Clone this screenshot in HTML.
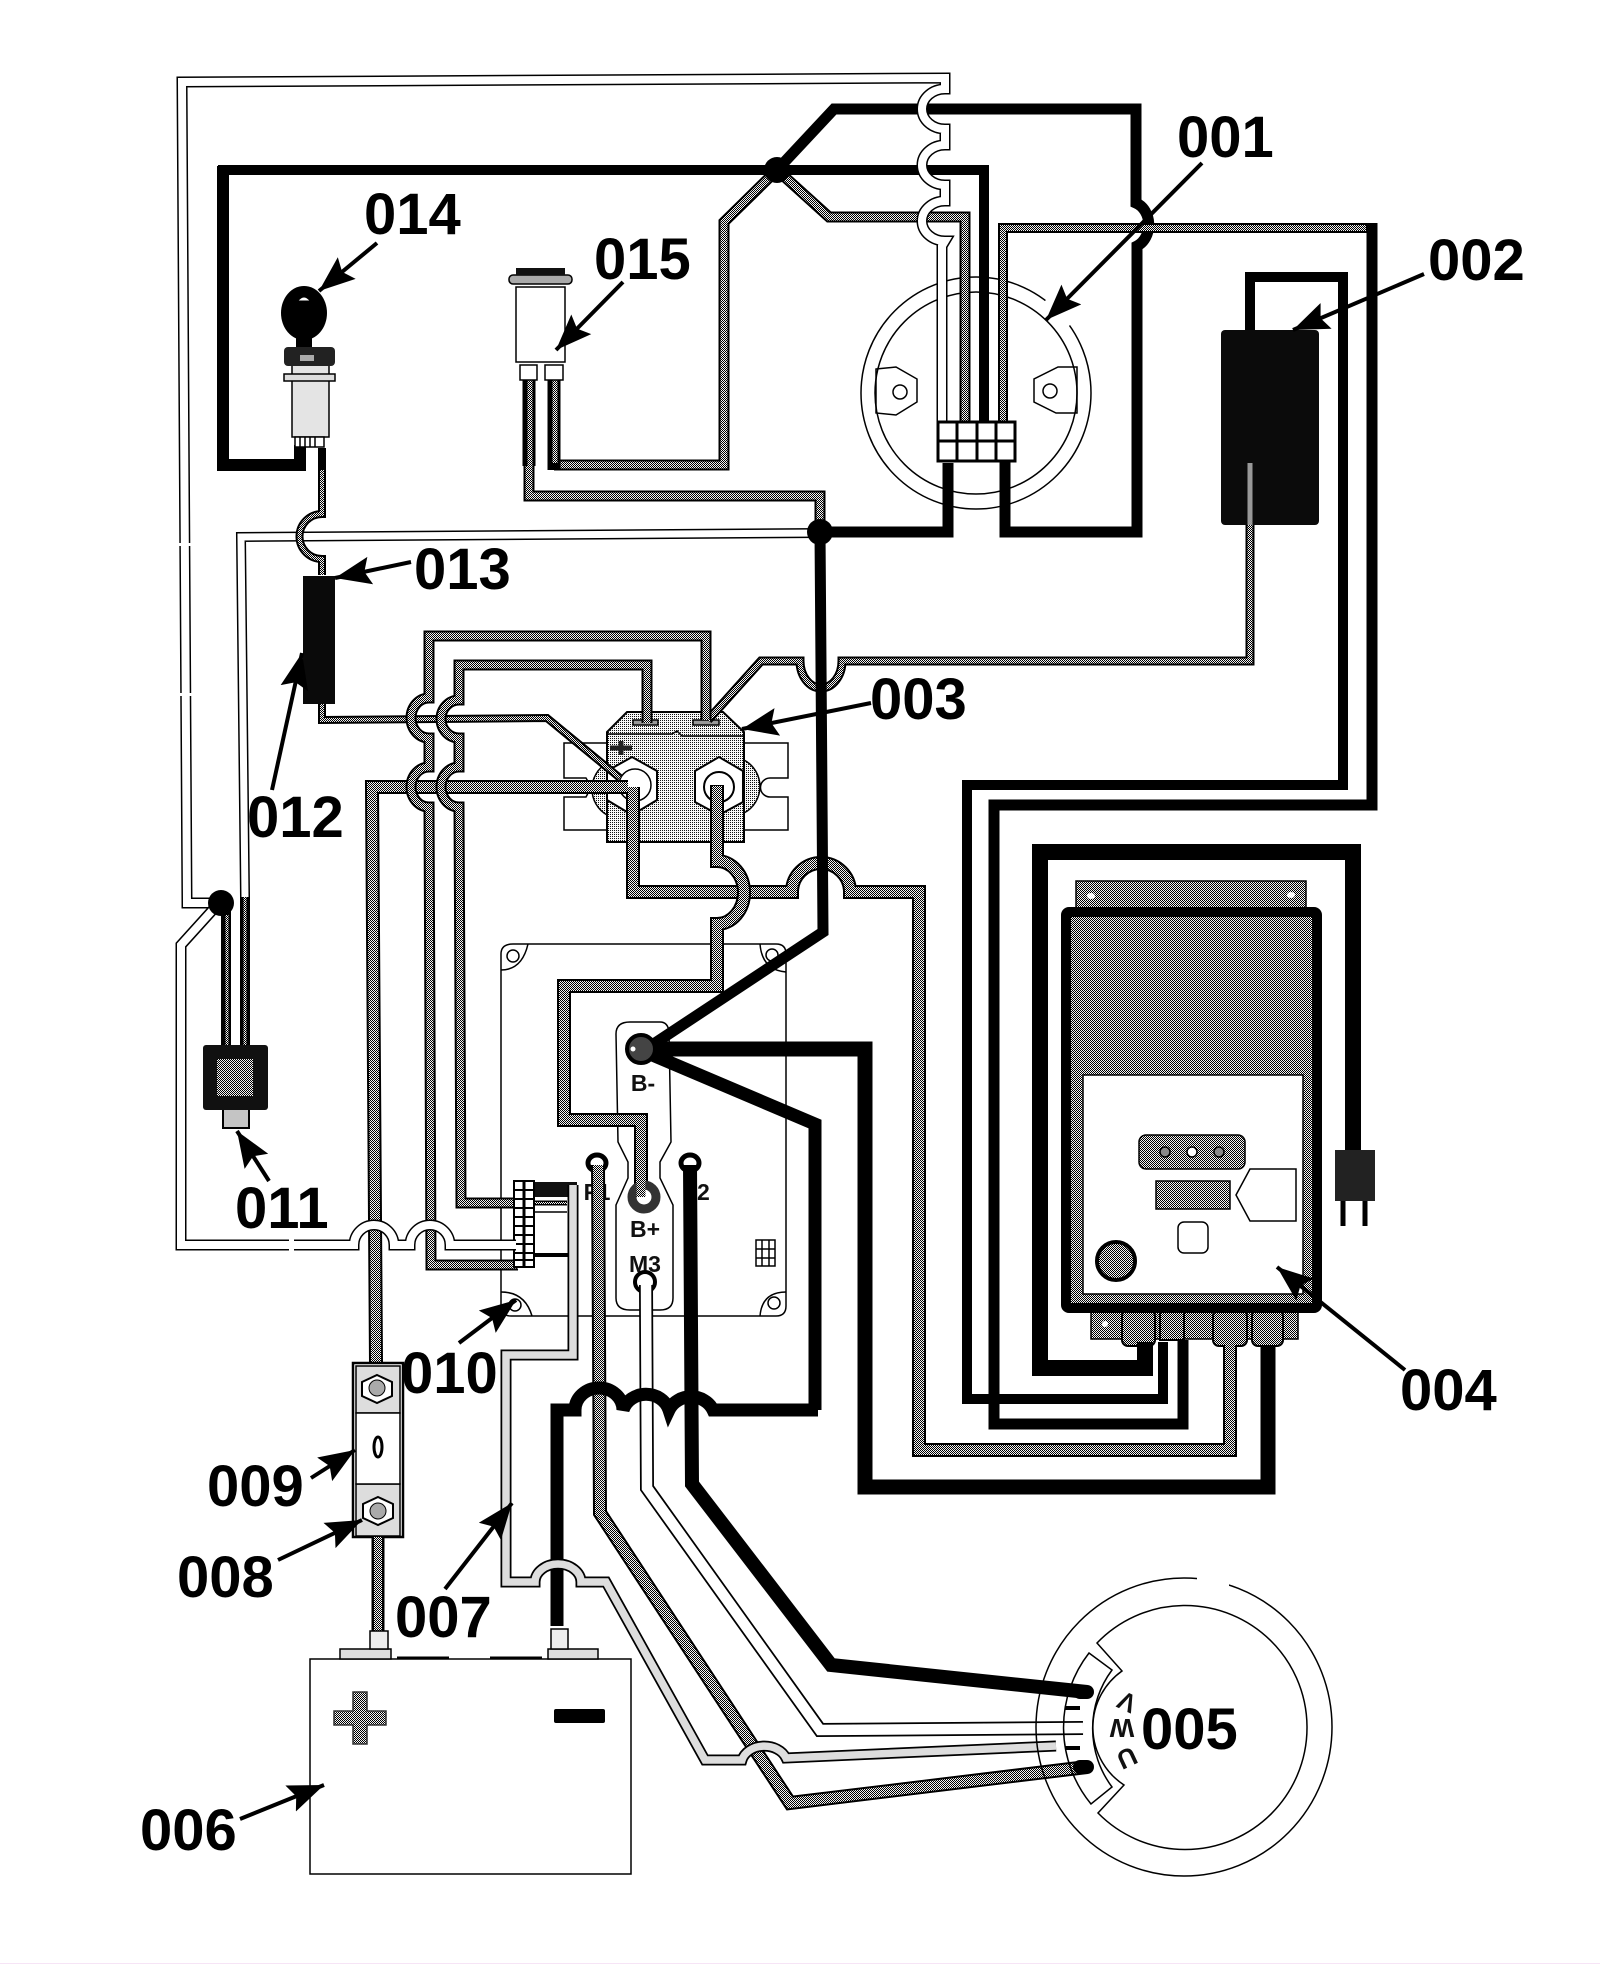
<!DOCTYPE html>
<html><head><meta charset="utf-8"><style>
html,body{margin:0;padding:0;background:#fff}
svg{display:block}
path,line,polyline{fill:none;stroke-linejoin:miter}
text{font-family:"Liberation Sans",sans-serif;font-weight:bold}
.lab{font-size:58px;fill:#000}
.sm{font-size:23px;fill:#111}
.t{stroke:#000;stroke-width:1.5;fill:none}
.a{stroke:#000;stroke-width:4;marker-end:url(#ah)}
</style></head><body>
<svg width="1600" height="1964" viewBox="0 0 1600 1964" xmlns="http://www.w3.org/2000/svg">
<defs>
<marker id="ah" markerUnits="userSpaceOnUse" markerWidth="38" markerHeight="30" refX="36" refY="15" orient="auto"><path d="M0,1 L36,15 L0,29 L6,15 Z" style="fill:#000;stroke:none"/></marker>
<pattern id="g" width="2" height="2" patternUnits="userSpaceOnUse"><rect width="2" height="2" fill="#f4f4f4"/><rect width="1" height="1" fill="#000"/><rect x="1" y="1" width="1" height="1" fill="#000"/></pattern>
<pattern id="l" width="2" height="2" patternUnits="userSpaceOnUse"><rect width="2" height="2" fill="#f8f8f8"/><rect width="1" height="1" fill="#111"/></pattern>
</defs>
<rect width="1600" height="1964" fill="#fff"/>
<rect x="0" y="1963" width="1600" height="1" fill="#f6e4f6"/>

<!-- motor 001 -->
<ellipse class="t" cx="976" cy="393" rx="115" ry="116"/>
<path d="M1046,300 L1070,325" style="stroke:#fff;stroke-width:8"/>
<circle class="t" cx="976" cy="393" r="101"/>
<path class="t" d="M876,369 L896,367 L917,379 L917,402 L896,415 L876,413 Z"/>
<path class="t" d="M1077,367 L1058,367 L1034,379 L1034,402 L1056,413 L1077,413 Z"/>
<circle class="t" cx="900" cy="392" r="7"/><circle class="t" cx="1050" cy="391" r="7"/>

<!-- controller 010 -->
<path class="t" d="M513,944 H776 Q786,944 786,954 V1306 Q786,1316 776,1316 H511 Q501,1316 501,1306 V954 Q501,944 513,944 Z"/>
<circle class="t" cx="513" cy="956" r="6"/><circle class="t" cx="772" cy="955" r="6"/><circle class="t" cx="515" cy="1305" r="6"/><circle class="t" cx="774" cy="1303" r="6"/>
<path d="M501,970 Q522,970 528,944 M760,944 Q762,970 786,972 M501,1292 Q525,1292 532,1316 M760,1316 Q762,1292 786,1292" class="t"/>
<path class="t" d="M630,1022 H660 Q668,1022 669,1032 L671,1142 L660,1162 V1178 L673,1205 V1298 Q673,1310 660,1310 H630 Q616,1310 616,1298 V1205 L628,1178 V1162 L618,1142 L616,1034 Q616,1022 630,1022 Z" style="fill:#fff"/>
<g class="t" style="stroke-width:1.5"><rect x="756" y="1240" width="19" height="26"/><path d="M762,1240 V1266 M769,1240 V1266 M756,1249 H775 M756,1258 H775"/></g>
<text class="sm" x="643" y="1091" text-anchor="middle">B-</text>
<text class="sm" x="645" y="1237" text-anchor="middle">B+</text>
<text class="sm" x="645" y="1272" text-anchor="middle">M3</text>
<text class="sm" x="597" y="1200" text-anchor="middle">F1</text>
<text class="sm" x="683" y="1200">F2</text>

<!-- relay 003 -->
<g>
<path class="t" style="fill:#fff" d="M607,743 H564 V778 H586 Q592,787 586,797 H564 V830 H607 Z"/>
<path class="t" style="fill:#fff" d="M744,743 H788 V778 H770 A9,9 0 0 0 770,797 H788 V830 H744 Z"/>
<path d="M607,763 A30,30 0 0 0 607,815" style="fill:url(#l);stroke:#000;stroke-width:1.5"/>
<path d="M744,760 A30,30 0 0 1 744,813" style="fill:url(#l);stroke:#000;stroke-width:1.5"/>
<path d="M627,712 H723 L744,732 V842 H607 V732 Z" style="fill:url(#l);stroke:#000;stroke-width:2"/>
<path d="M607,734 H672 L677,731 L682,736 H744" class="t"/>
<path d="M632,757 L657,771 V800 L632,815 L607,800 V771 Z" style="fill:#fff;stroke:#000;stroke-width:2"/>
<path d="M719,757 L743,771 V802 L719,815 L695,802 V771 Z" style="fill:#fff;stroke:#000;stroke-width:2"/>
<circle cx="635" cy="785" r="16" style="fill:#fff;stroke:#000;stroke-width:1.5"/>
<circle cx="719" cy="787" r="15" style="fill:#fff;stroke:#000;stroke-width:2"/>
<rect x="633" y="720" width="25" height="5" style="fill:#999;stroke:#000;stroke-width:1.5"/>
<rect x="693" y="720" width="26" height="5" style="fill:#999;stroke:#000;stroke-width:1.5"/>
<path d="M621,741 V755 M610,748 H632" style="stroke:#222;stroke-width:5"/>
</g>

<!-- controller 004 -->
<rect x="1076" y="881" width="230" height="27" style="fill:url(#g);stroke:#000;stroke-width:1.5"/>
<ellipse cx="1091" cy="896" rx="4" ry="3" fill="#fff"/><ellipse cx="1291" cy="895" rx="4" ry="3" fill="#fff"/>
<rect x="1091" y="1310" width="207" height="29" style="fill:url(#g);stroke:#000;stroke-width:1.5"/>
<circle cx="1105" cy="1324" r="3" fill="#fff"/>
<rect x="1122" y="1310" width="33" height="36" rx="6" style="fill:url(#g);stroke:#000;stroke-width:2"/>
<rect x="1160" y="1310" width="24" height="30" style="fill:url(#g);stroke:#000;stroke-width:2"/>
<rect x="1213" y="1310" width="34" height="36" rx="6" style="fill:url(#g);stroke:#000;stroke-width:2"/>
<rect x="1252" y="1310" width="31" height="36" rx="6" style="fill:url(#g);stroke:#000;stroke-width:2"/>
<rect x="1066" y="912" width="251" height="396" rx="3" style="fill:url(#g);stroke:#000;stroke-width:10"/>
<rect x="1083" y="1075" width="220" height="219" style="fill:#fff;stroke:#000;stroke-width:1.5"/>
<rect x="1139" y="1135" width="106" height="34" rx="7" style="fill:url(#g);stroke:#000;stroke-width:1.5"/>
<circle cx="1165" cy="1152" r="5" style="fill:#888;stroke:#000;stroke-width:1.5"/><circle cx="1192" cy="1152" r="5" style="fill:#fff;stroke:#000;stroke-width:1.5"/><circle cx="1219" cy="1152" r="5" style="fill:#888;stroke:#000;stroke-width:1.5"/>
<rect x="1156" y="1181" width="74" height="28" style="fill:url(#g);stroke:#000;stroke-width:1.5"/>
<path class="t" d="M1236,1195 L1250,1169 H1296 V1221 H1250 Z"/>
<rect class="t" x="1178" y="1222" width="30" height="31" rx="6"/>
<circle cx="1116" cy="1261" r="19" style="fill:url(#g);stroke:#000;stroke-width:4"/>
<!-- plug -->
<rect x="1335" y="1150" width="40" height="51" fill="#222"/>
<path d="M1343,1201 V1226 M1365,1201 V1226" style="stroke:#000;stroke-width:5"/>

<!-- wires: controller harness -->
<path d="M1145,1342 V1368 H1040 V852 H1353 V1150" style="stroke:#000;stroke-width:16"/>
<path d="M1250,330 V277 H1343 V785 H967 V1399 H1163 V1342" style="stroke:#000;stroke-width:10"/>
<path d="M1268,1345 V1487 H865 V1049 H643" style="stroke:#000;stroke-width:15"/>
<path d="M643,1051 L815,1124 V1410" style="stroke:#000;stroke-width:13"/>

<!-- gray dip wire from 002 -->
<path style="stroke:#000;stroke-width:9" d="M1250,525 V661 H842 A21,27 0 0 1 800,661 H761 L708,720"/>
<path style="stroke:url(#g);stroke-width:5" d="M1250,463 V661 H842 A21,27 0 0 1 800,661 H761 L708,720"/>

<!-- gray bump wire over vertical -->
<path style="stroke:#000;stroke-width:14" d="M633,787 V892 H792 A29,29 0 0 1 850,892 H919 V1450 H1230 V1345"/>
<path style="stroke:url(#g);stroke-width:10" d="M633,787 V892 H792 A29,29 0 0 1 850,892 H919 V1450 H1230 V1345"/>

<!-- B- main black -->
<path d="M820,532 L823,932 L643,1051" style="stroke:#000;stroke-width:11"/>

<!-- Wire J -->
<path style="stroke:#000;stroke-width:14" d="M628,787 H372 L376,1363"/>
<path style="stroke:url(#g);stroke-width:10" d="M628,787 H372 L376,1363"/>
<!-- Wire I -->
<path style="stroke:#000;stroke-width:8" d="M322,704 V720 L547,718 L620,778"/>
<path style="stroke:url(#g);stroke-width:4" d="M322,704 V720 L547,718 L620,778"/>
<!-- Wire G H -->
<path style="stroke:#000;stroke-width:11" d="M706,720 V636 H429 V698 A18,20 0 0 0 429,738 V767 A18,20 0 0 0 429,807 L431,1265 H518"/>
<path style="stroke:url(#g);stroke-width:7" d="M706,720 V636 H429 V698 A18,20 0 0 0 429,738 V767 A18,20 0 0 0 429,807 L431,1265 H518"/>
<path style="stroke:#000;stroke-width:11" d="M647,723 V665 H459 V700 A18,19 0 0 0 459,738 V767 A18,20 0 0 0 459,807 L461,1203 H516"/>
<path style="stroke:url(#g);stroke-width:7" d="M647,723 V665 H459 V700 A18,19 0 0 0 459,738 V767 A18,20 0 0 0 459,807 L461,1203 H516"/>
<!-- Wire K -->
<path style="stroke:#000;stroke-width:14" d="M717,785 V861 A27,31.5 0 0 1 717,924 V986 H564 V1120 H641 V1198"/>
<path style="stroke:url(#g);stroke-width:10" d="M717,786 V861 A27,31.5 0 0 1 717,924 V986 H564 V1120 H641 V1198"/>

<!-- terminal rings -->
<circle cx="641" cy="1049" r="14" style="fill:#444;stroke:#000;stroke-width:4"/>
<circle cx="633" cy="1049" r="2.5" fill="#fff"/>
<circle cx="644" cy="1197" r="12" style="fill:#fff;stroke:#333;stroke-width:9"/>
<path d="M641,1180 V1197" style="stroke:url(#g);stroke-width:9"/>
<circle cx="645" cy="1282" r="10" style="fill:#fff;stroke:#000;stroke-width:4"/>
<ellipse cx="597" cy="1163" rx="9" ry="8" style="fill:#fff;stroke:#000;stroke-width:5"/>
<ellipse cx="690" cy="1163" rx="9" ry="8" style="fill:#fff;stroke:#000;stroke-width:5"/>

<!-- controller connector -->
<rect x="534" y="1182" width="43" height="15" fill="#111"/>
<path d="M534,1203 H567" style="stroke:#000;stroke-width:5"/>
<path d="M534,1203 H567" style="stroke:url(#g);stroke-width:2"/>
<path d="M534,1212 H567" class="t"/>
<path d="M534,1255 H568" style="stroke:#000;stroke-width:4"/>
<rect x="514" y="1181" width="20" height="86" style="fill:#fff;stroke:#000;stroke-width:2"/>
<path d="M524,1181 V1267" style="stroke:#000;stroke-width:3"/>
<path d="M514,1190 H534 M514,1199 H534 M514,1208 H534 M514,1217 H534 M514,1226 H534 M514,1235 H534 M514,1244 H534 M514,1253 H534 M514,1260 H534" style="stroke:#000;stroke-width:2"/>

<!-- motor wires -->
<path style="stroke:#000;stroke-width:14" d="M598,1165 L600,1513 L790,1803 L1087,1767"/>
<path style="stroke:url(#g);stroke-width:10" d="M598,1165 L600,1513 L790,1803 L1087,1767"/>
<path style="stroke:#000;stroke-width:14" d="M646,1285 L647,1488 L820,1730 L1083,1728"/>
<path style="stroke:#fff;stroke-width:10.5" d="M646,1285 L647,1488 L820,1730 L1083,1728"/>
<path style="stroke:#000;stroke-width:14" d="M690,1165 L692,1484 L831,1665 L1087,1692"/>

<!-- Bump black wire to battery -->
<path style="stroke:#000;stroke-width:13" d="M557,1626 V1410 H575 A24,22 0 0 1 623,1410 A24,22 0 0 1 669,1410 A24,22 0 0 1 713,1410 H818"/>

<!-- white 007 wire -->
<path style="stroke:#000;stroke-width:11" d="M573,1185 V1355 H506 V1582 H535 A23,18 0 0 1 581,1582 H606 L705,1760 H742 A23,18 0 0 1 786,1758 L1056,1746"/>
<path style="stroke:#ddd;stroke-width:7.5" d="M573,1185 V1355 H506 V1582 H535 A23,18 0 0 1 581,1582 H606 L705,1760 H742 A23,18 0 0 1 786,1758 L1056,1746"/>

<!-- top black wires -->
<path d="M1005,461 V532 H1137 V246 A19,23 0 0 0 1136,203 V109 H834 L777,170" style="stroke:#000;stroke-width:11"/>
<path d="M300,445 V465 H223 V166" style="stroke:#000;stroke-width:12"/>
<path d="M218,170 H984 V422" style="stroke:#000;stroke-width:10"/>
<path d="M948,463 V532 H820" style="stroke:#000;stroke-width:11"/>
<path style="stroke:#000;stroke-width:11" d="M777,170 L829,217 H965 V422"/>
<path style="stroke:url(#g);stroke-width:7" d="M777,170 L829,217 H965 V422"/>
<path style="stroke:#000;stroke-width:11" d="M777,170 L724,222 V465 H554"/>
<path style="stroke:url(#g);stroke-width:7" d="M777,170 L724,222 V465 H554"/>
<path style="stroke:#000;stroke-width:11" d="M529,466 V496 H820 V532"/>
<path style="stroke:url(#g);stroke-width:7" d="M529,466 V496 H820 V532"/>
<path style="stroke:#000;stroke-width:13" d="M529,380 V466 M554,380 V470"/>
<path style="stroke:url(#g);stroke-width:5" d="M530,380 V466 M555,380 V463"/>
<!-- F wire -->
<path style="stroke:#000;stroke-width:11" d="M1372,223 V805 H994 V1424 H1183 V1340"/>
<path style="stroke:#000;stroke-width:10" d="M1003,422 V228 H1372"/>
<path style="stroke:url(#g);stroke-width:6" d="M1003,422 V228 H1366"/>
<!-- connector 001 white wire + outer loop -->
<path style="stroke:#000;stroke-width:11" d="M219,903 H187 L182,82 L945,78 V89 A23,20 0 0 0 945,129 V145 A23,20 0 0 0 945,185 V201 A23,20 0 0 0 945,241 L942,246 V422"/>
<path style="stroke:#fff;stroke-width:8" d="M219,903 H187 L182,82 L945,78 V89 A23,20 0 0 0 945,129 V145 A23,20 0 0 0 945,185 V201 A23,20 0 0 0 945,241 L942,246 V422"/>
<path style="stroke:#000;stroke-width:11" d="M219,903 L181,945 V1245 H354 A20,20 0 0 1 394,1245 H410 A20,20 0 0 1 450,1245 H516"/>
<path style="stroke:#fff;stroke-width:8" d="M219,903 L181,945 V1245 H354 A20,20 0 0 1 394,1245 H410 A20,20 0 0 1 450,1245 H516"/>
<rect x="175" y="543" width="20" height="3" fill="#fff"/><rect x="175" y="693" width="20" height="3" fill="#fff"/><rect x="289" y="1238" width="5" height="14" fill="#fff"/>
<!-- white to switch -->
<path style="stroke:#000;stroke-width:10" d="M820,533 L241,537 L245,897"/>
<path style="stroke:#fff;stroke-width:7" d="M820,533 L241,537 L245,897"/>
<path style="stroke:#000;stroke-width:10" d="M245,897 V1046 M226,905 V1046"/>
<path style="stroke:url(#g);stroke-width:3" d="M245,897 V1046 M227,915 V1046"/>

<!-- connector of motor -->
<rect x="938" y="422" width="77" height="39" style="fill:#fff;stroke:#000;stroke-width:3"/>
<path d="M957,422 V461 M977,422 V461 M996,422 V461 M938,441 H1015" style="stroke:#000;stroke-width:3"/>

<!-- key wire + 013 -->
<path style="stroke:#000;stroke-width:8" d="M322,448 V514 A22,22 0 0 0 322,559 V575"/>
<path style="stroke:url(#g);stroke-width:4" d="M322,470 V514 A22,22 0 0 0 322,559 V575"/>
<rect x="303" y="576" width="32" height="128" fill="#0a0a0a"/>

<!-- junctions -->
<circle cx="777" cy="170" r="13" fill="#000"/>
<circle cx="820" cy="532" r="13" fill="#000"/>
<circle cx="221" cy="903" r="13" fill="#000"/>

<!-- relay 002 box -->
<rect x="1221" y="330" width="98" height="195" rx="4" fill="#0b0b0b"/>
<path style="stroke:#999;stroke-width:5" d="M1250,463 V525"/>

<!-- lamp 015 -->
<rect x="516" y="287" width="49" height="75" style="fill:#fff;stroke:#000;stroke-width:1.5"/>
<rect x="509" y="275" width="63" height="9" rx="4" style="fill:#aaa;stroke:#000;stroke-width:1.5"/>
<rect x="516" y="268" width="49" height="7" fill="#111"/>
<rect x="520" y="365" width="17" height="15" style="fill:#fff;stroke:#000;stroke-width:1.5"/>
<rect x="545" y="365" width="18" height="15" style="fill:#fff;stroke:#000;stroke-width:1.5"/>

<!-- key 014 -->
<ellipse cx="304" cy="313" rx="23" ry="27" fill="#000"/>
<path d="M300,300 Q304,296 308,300 Z" style="fill:#fff;stroke:#fff"/>
<rect x="296" y="335" width="16" height="12" fill="#000"/>
<rect x="292" y="365" width="37" height="72" style="fill:#e4e4e4;stroke:#000;stroke-width:1.5"/>
<rect x="284" y="347" width="51" height="19" rx="4" fill="#222"/>
<rect x="300" y="355" width="14" height="6" fill="#aaa"/>
<rect x="284" y="374" width="51" height="7" style="fill:#ddd;stroke:#000;stroke-width:1.5"/>
<rect x="295" y="437" width="29" height="10" style="fill:#fff;stroke:#000;stroke-width:1.5"/>
<path d="M300,437 V447 M305,437 V447 M310,437 V447 M315,437 V447" style="stroke:#000;stroke-width:1.5"/>

<!-- switch 011 -->
<rect x="223" y="1103" width="26" height="25" style="fill:#c4c4c4;stroke:#000;stroke-width:2"/>
<rect x="203" y="1045" width="65" height="65" rx="3" fill="#111"/>
<rect x="217" y="1059" width="36" height="37" fill="url(#g)"/>

<!-- fuse -->
<rect x="353" y="1363" width="50" height="174" style="fill:#fff;stroke:#000;stroke-width:2.5"/>
<rect x="356" y="1366" width="44" height="47" style="fill:#ddd;stroke:#000;stroke-width:1.5"/>
<rect x="356" y="1484" width="44" height="52" style="fill:#ddd;stroke:#000;stroke-width:1.5"/>
<rect x="356" y="1413" width="44" height="71" fill="#fff" style="stroke:#000;stroke-width:1.5"/>
<ellipse cx="378" cy="1447" rx="4" ry="10" style="fill:#fff;stroke:#000;stroke-width:3"/>
<path d="M377,1375 L392,1382 V1396 L377,1403 L362,1396 V1382 Z" style="fill:#fff;stroke:#000;stroke-width:2"/>
<circle cx="377" cy="1388" r="8" fill="#aaa" stroke="#000"/>
<path d="M378,1497 L393,1504 V1518 L378,1525 L363,1518 V1504 Z" style="fill:#fff;stroke:#000;stroke-width:2"/>
<circle cx="378" cy="1511" r="8" fill="#aaa" stroke="#000"/>
<path style="stroke:#000;stroke-width:13" d="M378,1537 V1631"/>
<path style="stroke:url(#g);stroke-width:8" d="M378,1537 V1631"/>

<!-- battery -->
<rect class="t" x="310" y="1659" width="321" height="215" style="fill:#fff"/>
<rect x="340" y="1649" width="51" height="10" style="fill:#ddd;stroke:#000;stroke-width:1.5"/>
<rect x="370" y="1631" width="18" height="18" style="fill:#eee;stroke:#000;stroke-width:1.5"/>
<rect x="548" y="1649" width="50" height="10" style="fill:#ddd;stroke:#000;stroke-width:1.5"/>
<rect x="551" y="1629" width="17" height="20" style="fill:#eee;stroke:#000;stroke-width:1.5"/>
<path d="M397,1658 H449 M490,1658 H542" style="stroke:#000;stroke-width:3"/>
<path d="M353,1692 H367 V1711 H386 V1725 H367 V1744 H353 V1725 H334 V1711 H353 Z" style="fill:url(#g);stroke:#333;stroke-width:1.5"/>
<rect x="554" y="1709" width="51" height="14" rx="2" fill="#000"/>

<!-- motor 005 -->
<ellipse class="t" cx="1184" cy="1727" rx="148" ry="149"/>
<rect x="1197" y="1570" width="32" height="20" fill="#fff"/>
<path class="t" d="M1097,1643 A122,122 0 1 1 1098,1813 L1124,1785 A69,69 0 0 1 1122,1671 Z"/>
<path class="t" d="M1089,1653 L1112,1670 A98,98 0 0 0 1112,1787 L1091,1804 A121,121 0 0 1 1089,1653 Z"/>
<path d="M1065,1708 H1080 M1065,1748 H1080" style="stroke:#000;stroke-width:4"/>
<text style="font-size:26px;fill:#111" transform="translate(1127,1702) rotate(205)" text-anchor="middle" y="9">V</text>
<text style="font-size:26px;fill:#111" transform="translate(1122,1728) rotate(180)" text-anchor="middle" y="9">W</text>
<text style="font-size:26px;fill:#111" transform="translate(1127,1758) rotate(155)" text-anchor="middle" y="9">U</text>
<!-- motor wire ends -->
<path d="M1080,1692 L1087,1692" style="stroke:#000;stroke-width:14;stroke-linecap:round"/>
<path d="M1080,1767 L1087,1767" style="stroke:#000;stroke-width:14;stroke-linecap:round"/>

<!-- arrows -->
<line class="a" x1="1202" y1="163" x2="1046" y2="320"/>
<line class="a" x1="1424" y1="274" x2="1293" y2="330"/>
<line class="a" x1="871" y1="703" x2="742" y2="729"/>
<line class="a" x1="1405" y1="1370" x2="1277" y2="1267"/>
<line class="a" x1="240" y1="1819" x2="324" y2="1785"/>
<line class="a" x1="445" y1="1589" x2="512" y2="1503"/>
<line class="a" x1="278" y1="1560" x2="362" y2="1520"/>
<line class="a" x1="311" y1="1478" x2="355" y2="1450"/>
<line class="a" x1="459" y1="1343" x2="516" y2="1300"/>
<line class="a" x1="269" y1="1181" x2="237" y2="1131"/>
<line class="a" x1="272" y1="790" x2="302" y2="653"/>
<line class="a" x1="411" y1="562" x2="335" y2="578"/>
<line class="a" x1="377" y1="243" x2="319" y2="291"/>
<line class="a" x1="623" y1="282" x2="556" y2="350"/>

<!-- labels -->
<text class="lab" x="1177" y="157">001</text>
<text class="lab" x="1428" y="280">002</text>
<text class="lab" x="870" y="719">003</text>
<text class="lab" x="1400" y="1410">004</text>
<text class="lab" x="1141" y="1749">005</text>
<text class="lab" x="140" y="1850">006</text>
<text class="lab" x="395" y="1637">007</text>
<text class="lab" x="177" y="1597">008</text>
<text class="lab" x="207" y="1506">009</text>
<text class="lab" x="401" y="1393">010</text>
<text class="lab" x="235" y="1228">011</text>
<text class="lab" x="247" y="837">012</text>
<text class="lab" x="414" y="589">013</text>
<text class="lab" x="364" y="234">014</text>
<text class="lab" x="594" y="279">015</text>
</svg>
</body></html>
